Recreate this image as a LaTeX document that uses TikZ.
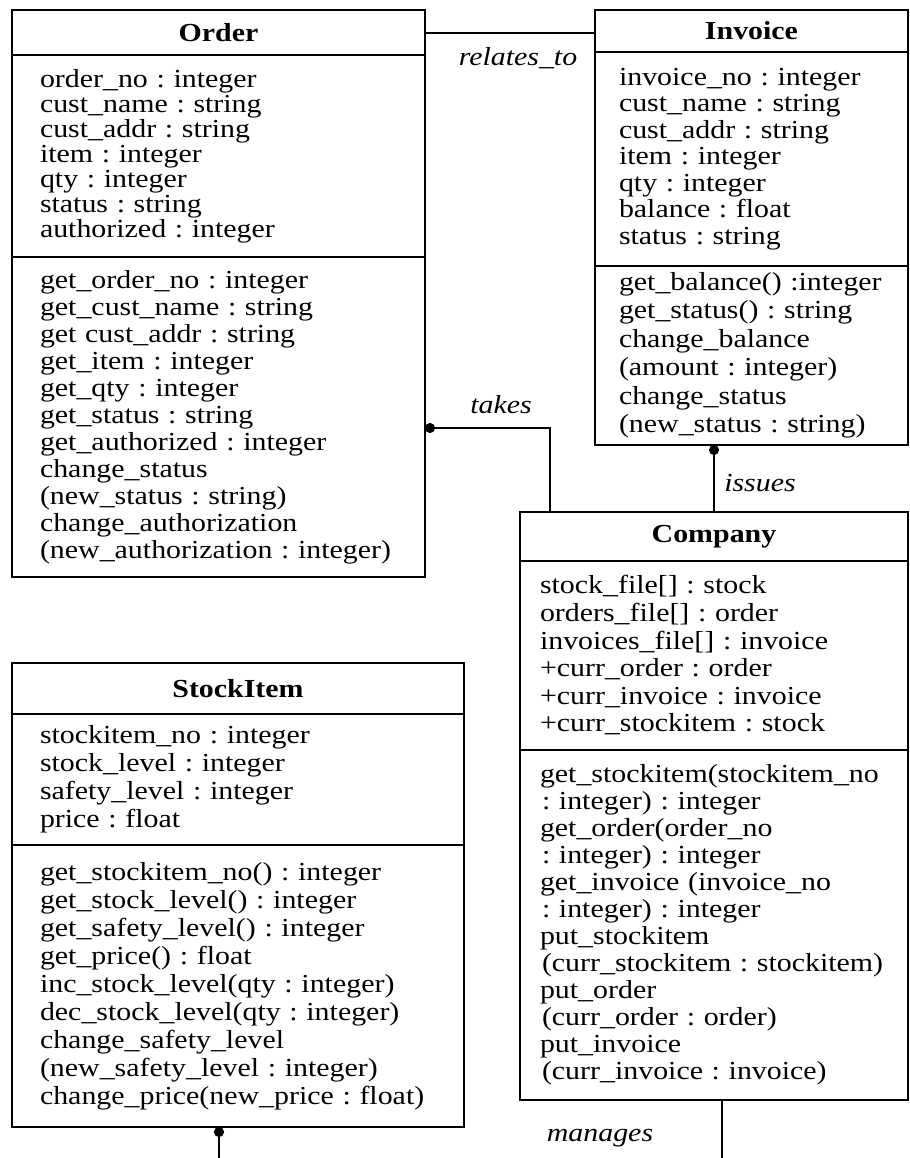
\documentclass[tikz,border=0pt]{standalone}
\usepackage{fontspec}
\setmainfont{Liberation Serif}[FakeStretch=1.15]
\usetikzlibrary{arrows.meta,positioning}
\frenchspacing

\begin{document}
\begin{tikzpicture}[x=0.5pt, y=-0.5pt, line width=1pt,
  every node/.style={outer sep=0pt, inner sep=0pt},
  classhead/.style={draw, font=\fontsize{13pt}{13pt}\selectfont\bfseries},
  members/.style={draw, align=left},
  assoc/.style={font=\fontsize{13pt}{13pt}\selectfont\itshape},
  knob/.style={{Circle[length=5pt]}-}]
  \useasboundingbox (0,0) rectangle (910,1158);

  % Order
  \node (order) [classhead, minimum width=206.5pt, minimum height=22.5pt] at (218.5,32.5) {Order};
  \node (order-attr) [members, below=0pt of order, inner xsep=14pt, text width=178.5pt, minimum height=101pt, font=\fontsize{13pt}{12.5pt}\selectfont]
    {order\_no : integer\\cust\_name : string\\cust\_addr : string\\item : integer\\qty : integer\\status : string\\authorized : integer};
  \node (order-ops) [members, below=0pt of order-attr, inner xsep=14pt, text width=178.5pt, minimum height=160pt, font=\fontsize{13pt}{13.5pt}\selectfont]
    {get\_order\_no : integer\\get\_cust\_name : string\\get cust\_addr : string\\get\_item : integer\\get\_qty : integer\\get\_status : string\\get\_authorized : integer\\change\_status\\(new\_status : string)\\change\_authorization\\(new\_authorization : integer)};

  % Invoice
  \node (invoice) [classhead, minimum width=156.5pt, minimum height=21pt] at (751.5,31) {Invoice};
  \node (invoice-attr) [members, below=0pt of invoice, inner xsep=12pt, text width=132.5pt, minimum height=107pt, font=\fontsize{13pt}{13.25pt}\selectfont]
    {invoice\_no : integer\\cust\_name : string\\cust\_addr : string\\item : integer\\qty : integer\\balance : float\\status : string};
  \node (invoice-ops) [members, below=0pt of invoice-attr, inner xsep=12pt, text width=132.5pt, minimum height=89.5pt, font=\fontsize{13pt}{14.25pt}\selectfont]
    {get\_balance() :integer\\get\_status() : string\\change\_balance\\(amount : integer)\\change\_status\\(new\_status : string)};

  % Company
  \node (company) [classhead, minimum width=194pt, minimum height=24.5pt] at (714,536.5) {Company};
  \node (company-attr) [members, below=0pt of company, inner xsep=10pt, text width=174pt, minimum height=94.5pt, font=\fontsize{13pt}{13.8pt}\selectfont]
    {stock\_file[] : stock\\orders\_file[] : order\\invoices\_file[] : invoice\\+curr\_order : order\\+curr\_invoice : invoice\\+curr\_stockitem : stock};
  \node (company-ops) [members, below=0pt of company-attr, inner xsep=10pt, text width=174pt, minimum height=175pt, font=\fontsize{13pt}{13.5pt}\selectfont]
    {get\_stockitem(stockitem\_no\\\hspace*{1pt}: integer) : integer\\get\_order(order\_no\\\hspace*{1pt}: integer) : integer\\get\_invoice (invoice\_no\\\hspace*{1pt}: integer) : integer\\put\_stockitem\\\hspace*{1pt}(curr\_stockitem : stockitem)\\put\_order\\\hspace*{1pt}(curr\_order : order)\\put\_invoice\\\hspace*{1pt}(curr\_invoice : invoice)};

  % StockItem
  \node (stockitem) [classhead, minimum width=226pt, minimum height=25.5pt] at (238,688.5) {StockItem};
  \node (stockitem-attr) [members, below=0pt of stockitem, inner xsep=14pt, text width=198pt, minimum height=65.5pt, font=\fontsize{13pt}{14pt}\selectfont]
    {stockitem\_no : integer\\stock\_level : integer\\safety\_level : integer\\price : float};
  \node (stockitem-ops) [members, below=0pt of stockitem-attr, inner xsep=14pt, text width=198pt, minimum height=141pt, font=\fontsize{13pt}{14pt}\selectfont]
    {get\_stockitem\_no() : integer\\get\_stock\_level() : integer\\get\_safety\_level() : integer\\get\_price() : float\\inc\_stock\_level(qty : integer)\\dec\_stock\_level(qty : integer)\\change\_safety\_level\\(new\_safety\_level : integer)\\change\_price(new\_price : float)};

  % associations
  \node (relates) [assoc] at (518,58) {relates\_to};
  \node (takes) [assoc] at (501,405) {takes};
  \node (issues) [assoc] at (760,483) {issues};
  \node (manages) [assoc] at (600,1138) {manages};

  \coordinate (manages-end) at (722,1158);
  \coordinate (stock-end) at (219,1158);

  \draw (order.east) -- (order.east -| invoice.west);
  \draw[knob] ([yshift=-5.5pt]order-ops.east) -| ([xshift=15pt]company.north west);
  \draw[knob] (company.north |- invoice-ops.south) -- (company.north);
  \draw (manages-end |- company-ops.south) -- (manages-end);
  \draw[knob] (stock-end |- stockitem-ops.south) -- (stock-end);
\end{tikzpicture}
\end{document}
